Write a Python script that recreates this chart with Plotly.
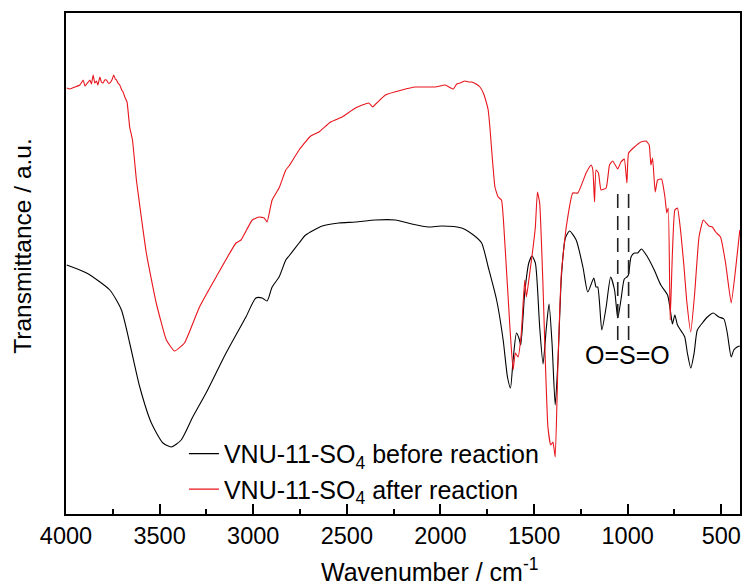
import plotly.graph_objects as go

# ---- data ----
wn_before = [3996, 3890, 3766, 3704, 3660, 3606, 3544, 3482, 3438, 3385, 3323, 3252, 3145, 3039,
             2986, 2952, 2926, 2899, 2862, 2826, 2809, 2755, 2720, 2631, 2543, 2454, 2347, 2241,
             2153, 2064, 1993, 1887, 1824, 1780, 1745, 1700, 1665, 1642, 1626, 1612, 1594, 1581,
             1571, 1550, 1528, 1511, 1493, 1470, 1452, 1434, 1420, 1404, 1387, 1372, 1354, 1333,
             1310, 1275, 1239, 1213, 1181, 1169, 1160, 1138, 1115, 1091, 1070, 1053, 1036, 1018,
             1004, 996, 982, 964, 947, 926, 894, 858, 823, 787, 770, 761, 748, 734, 707, 695, 681,
             663, 645, 628, 601, 574, 543, 513, 486, 468, 447, 433, 415, 401]
t_before = [249, 241, 224, 204, 171, 127, 91, 71, 67, 74, 97, 121, 161, 197,
            216, 216, 213, 227, 237, 254, 258, 271, 279, 288, 291, 292, 294, 294,
            290, 287, 288, 286, 279, 271, 247, 214, 174, 137, 126, 154, 181, 176,
            169, 221, 251, 258, 251, 187, 150, 187, 210, 171, 109, 154, 237, 276,
            283, 274, 247, 222, 236, 227, 227, 184, 207, 237, 224, 196, 214, 235,
            237, 239, 257, 261, 261, 265, 257, 244, 229, 219, 201, 190, 199, 189, 181, 177, 161,
            146, 161, 184, 191, 197, 201, 197, 195, 181, 157, 164, 167, 168]

wn_after = [3996, 3979, 3952, 3926, 3908, 3899, 3881, 3872, 3864, 3855, 3846, 3837, 3830, 3819,
            3811, 3802, 3793, 3784, 3774, 3766, 3755, 3745, 3737, 3730, 3723, 3713, 3702, 3695,
            3686, 3674, 3660, 3645, 3624, 3615, 3571, 3518, 3464, 3420, 3367, 3287, 3198, 3092,
            3065, 3005, 2968, 2941, 2926, 2899, 2862, 2826, 2809, 2755, 2693, 2649, 2587, 2525,
            2454, 2383, 2362, 2340, 2294, 2206, 2135, 2028, 1975, 1931, 1913, 1894, 1869, 1851,
            1834, 1809, 1789, 1771, 1754, 1745, 1736, 1709, 1692, 1674, 1656, 1629, 1612, 1600,
            1585, 1568, 1550, 1541, 1523, 1505, 1493, 1482, 1470, 1452, 1440, 1426, 1411, 1399,
            1387, 1372, 1354, 1328, 1293, 1266, 1222, 1195, 1186, 1177, 1169, 1156, 1142, 1115,
            1097, 1080, 1053, 1036, 1018, 1004, 995, 964, 929, 902, 885, 876, 867, 853, 840, 819,
            801, 791, 783, 773, 761, 748, 734, 716, 699, 685, 663, 642, 619, 596, 566, 548, 530,
            504, 477, 447, 424, 401]
t_after = [426, 425, 427, 429, 434, 428, 432, 434, 430, 439, 431, 433, 429, 437,
           432, 431, 434, 434, 431, 431, 434, 439, 435, 434, 431, 429, 424, 422,
           417, 412, 387, 374, 334, 321, 261, 211, 174, 163, 171, 207, 237, 271,
           274, 294, 297, 296, 292, 314, 326, 344, 348, 364, 378, 382, 392, 397,
           406, 411, 407, 411, 419, 424, 427, 427, 429, 425, 430, 431, 433, 432,
           432, 430, 427, 421, 411, 404, 387, 327, 317, 314, 271, 187, 144, 161,
           157, 181, 234, 217, 241, 267, 287, 322, 311, 227, 154, 87, 69, 72,
           57, 154, 241, 287, 321, 321, 341, 349, 344, 312, 344, 341, 324, 326,
           349, 353, 345, 352, 355, 331, 361, 367, 372, 373, 369, 349, 356, 322, 334, 335,
           317, 301, 306, 194, 261, 304, 306, 281, 247, 214, 182, 221, 277, 294, 288, 287, 282,
           277, 251, 211, 244, 284]

sos_wn = [1053, 995]          # O=S=O marker positions
sos_t_range = [174, 320]
sos_label = "O=S=O"
sos_label_pos = (1000, 159)

x_ticks = [4000, 3500, 3000, 2500, 2000, 1500, 1000, 500]
names = ["VNU-11-SO<sub>4</sub> before reaction", "VNU-11-SO<sub>4</sub> after reaction"]
colors = ["#000000", "#e8141c"]
x_title = "Wavenumber / cm<sup>-1</sup>"
y_title = "Transmittance / a.u."

FONT = "Liberation Sans, Arial, sans-serif"

fig = go.Figure()
fig.add_trace(go.Scatter(x=wn_before, y=t_before, mode="lines", name=names[0],
                         line=dict(color=colors[0], width=1.1, shape="spline", smoothing=0.6),
                         legendrank=1))
fig.add_trace(go.Scatter(x=wn_after, y=t_after, mode="lines", name=names[1],
                         line=dict(color=colors[1], width=1.1, shape="spline", smoothing=0.4),
                         legendrank=2))
for w in sos_wn:
    fig.add_trace(go.Scatter(x=[w, w], y=sos_t_range, mode="lines", showlegend=False,
                             line=dict(color="#222222", width=1.6, dash="14px,8px")))

fig.add_annotation(x=sos_label_pos[0], y=sos_label_pos[1], text=sos_label, showarrow=False,
                   font=dict(family=FONT, size=25, color="black"), xanchor="center", yanchor="middle")

# axis titles (placed as in the reference, slightly off-centre)
fig.add_annotation(xref="paper", yref="paper", x=0.54, y=-0.112, text=x_title, showarrow=False,
                   font=dict(family=FONT, size=25, color="black"), xanchor="center", yanchor="middle")
fig.add_annotation(xref="paper", yref="paper", x=-0.064, y=0.535, text=y_title, showarrow=False,
                   textangle=-90, font=dict(family=FONT, size=24.5, color="black"),
                   xanchor="center", yanchor="middle")

fig.update_layout(
    width=745, height=584,
    margin=dict(l=66, r=3, t=13, b=70),
    paper_bgcolor="white", plot_bgcolor="white",
    font=dict(family=FONT, color="black"),
    showlegend=True,
    legend=dict(x=0.175, y=0.166, xanchor="left", yanchor="top", bgcolor="rgba(0,0,0,0)",
                font=dict(family=FONT, size=25), itemwidth=30, tracegroupgap=0,
                traceorder="normal"),
)
fig.update_xaxes(range=[4000, 400], tickvals=x_ticks, ticktext=[str(v) for v in x_ticks],
                 ticks="inside", ticklen=10, tickwidth=1.5, tickcolor="black",
                 minor=dict(dtick=250, tick0=0, ticks="inside", ticklen=5, tickwidth=1.5, tickcolor="black"),
                 showline=True, linecolor="black", linewidth=1.8, mirror=True,
                 showgrid=False, zeroline=False,
                 tickfont=dict(family=FONT, size=23.5))
fig.update_yaxes(range=[0, 501], showticklabels=False, ticks="",
                 showline=True, linecolor="black", linewidth=1.8, mirror=True,
                 showgrid=False, zeroline=False)

fig.write_html("out.html")
